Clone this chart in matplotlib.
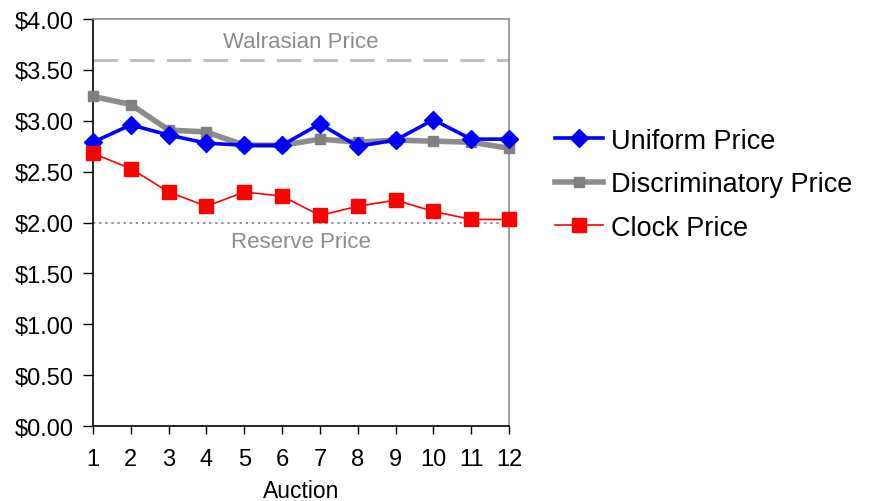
import matplotlib
matplotlib.use("Agg")
import matplotlib.pyplot as plt
from matplotlib.ticker import FuncFormatter, MultipleLocator

plt.rcParams['font.family'] = ['Liberation Sans', 'DejaVu Sans']

auctions = list(range(1, 13))
uniform_price = [2.79, 2.96, 2.86, 2.78, 2.76, 2.76, 2.97, 2.75, 2.81, 3.01, 2.82, 2.82]
discriminatory_price = [3.24, 3.16, 2.91, 2.89, 2.76, 2.76, 2.82, 2.79, 2.81, 2.80, 2.79, 2.73]
clock_price = [2.68, 2.53, 2.30, 2.16, 2.30, 2.26, 2.07, 2.16, 2.22, 2.11, 2.03, 2.03]
walrasian_price = 3.60
reserve_price = 2.00

fig = plt.figure(figsize=(8.74, 5.02), dpi=100)
ax = fig.add_axes([0.1064, 0.1494, 0.4760, 0.8106])

ax.axhline(walrasian_price, color='#c0c0c0', lw=2.2, dashes=(8, 4), zorder=1)
ax.axhline(reserve_price, color='#707070', lw=1.1, dashes=(1.5, 2.5), zorder=1)
ax.text(6.5, walrasian_price + 0.08, 'Walrasian Price', ha='center', va='bottom',
        color='#8c8c8c', fontsize=16)
ax.text(6.5, reserve_price - 0.08, 'Reserve Price', ha='center', va='top',
        color='#8c8c8c', fontsize=16)

ax.plot(auctions, uniform_price, color='#0000ff', lw=2.6, marker='D', ms=9.5,
        label='Uniform Price', clip_on=False, zorder=4)
ax.plot(auctions, discriminatory_price, color='#8c8c8c', lw=4, marker='s', ms=7,
        mfc='#808080', mec='#808080', label='Discriminatory Price', clip_on=False, zorder=3)
ax.plot(auctions, clock_price, color='#ff0000', lw=1.2, marker='s', ms=9.5,
        label='Clock Price', clip_on=False, zorder=5)

ax.set_xlim(1, 12)
ax.set_ylim(0, 4)
ax.set_xticks(auctions)
ax.yaxis.set_major_locator(MultipleLocator(0.5))
ax.yaxis.set_major_formatter(FuncFormatter(lambda v, p: f'${v:.2f}'))
ax.tick_params(axis='both', labelsize=17, direction='out', length=7, width=1,
               colors='black')
ax.tick_params(axis='y', pad=7)
ax.tick_params(axis='x', pad=10, length=6)
ax.set_xlabel('Auction', fontsize=16.5, labelpad=6)

for side in ('top', 'right'):
    ax.spines[side].set_color('#8c8c8c')
    ax.spines[side].set_linewidth(1.2)
for side in ('left', 'bottom'):
    ax.spines[side].set_color('black')
    ax.spines[side].set_linewidth(1.2)

fig.legend(loc='center left', bbox_to_anchor=(0.623, 0.631), frameon=False,
           fontsize=19.5, handlelength=1.75, handletextpad=0.3, labelspacing=0.65,
           borderaxespad=0)

fig.savefig('out.png', dpi=100)
